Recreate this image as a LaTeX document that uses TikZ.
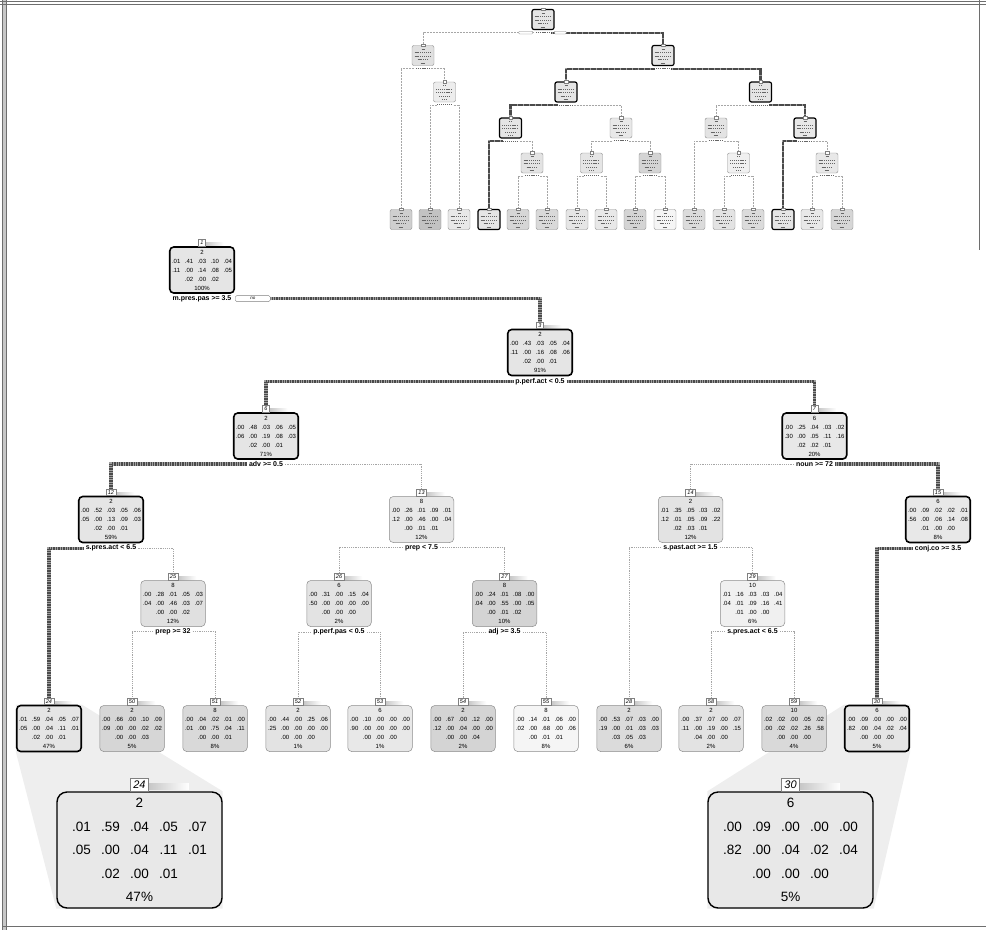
\documentclass[tikz,border=0pt]{standalone}
\usepackage{fontspec}
\setmainfont{Liberation Sans}
\usetikzlibrary{positioning, backgrounds}
\definecolor{hotgray}{HTML}{A0A0A0}
\definecolor{hotdark}{HTML}{4A4A4A}
\definecolor{conegray}{HTML}{EEEEEE}
\definecolor{framegray}{HTML}{6E6E6E}

% one row of the class table: five (or three) fixed cells
\newcommand\pcell[1]{\makebox[2.15em]{#1}}
\def\prow#1 #2 #3 #4 #5;{\pcell{#1}\pcell{#2}\pcell{#3}\pcell{#4}\pcell{#5}}
\def\pmid#1 #2 #3;{\pcell{#1}\pcell{#2}\pcell{#3}}
\def\ninfo#1/#2/#3/#4/#5;{#1\\\prow#2;\\\prow#3;\\\pmid#4;\\#5}

\begin{document}
\begin{tikzpicture}[
  x=1pt, y=-1pt,
  box/.style={draw=black!45, line width=0.5pt, rounded corners=4pt,
    minimum width=64pt, minimum height=46pt, inner sep=0pt, align=center,
    font=\fontsize{6}{9}\selectfont},
  onpath/.style={draw=black, line width=1.6pt},
  big/.style={box, draw=black, line width=1.4pt, rounded corners=10pt,
    minimum width=165pt, minimum height=116pt,
    font=\fontsize{13.5}{23.5}\selectfont},
  tag/.style={draw=black!50, fill=white, line width=0.4pt, anchor=south,
    inner xsep=2pt, inner ysep=0.4pt, minimum height=6.5pt,
    font=\fontsize{5.5}{5.5}\selectfont\itshape},
  bigtag/.style={tag, line width=0.6pt, inner xsep=3pt, minimum height=13pt,
    font=\fontsize{11}{11}\selectfont\itshape},
  split/.style={anchor=north, inner xsep=2pt, inner ysep=0.5pt,
    font=\fontsize{7}{7}\selectfont\bfseries},
  nobox/.style={draw=black!50, fill=white, rounded corners=1.5pt, line width=0.4pt,
    minimum width=35pt, minimum height=6pt, inner sep=0pt,
    font=\fontsize{4.5}{4.5}\selectfont\itshape},
  hot/.style={draw=hotgray, line width=3.2pt,
    postaction={draw=hotdark, line width=3.2pt, dash pattern=on 0.5pt off 1.2pt}},
  cold/.style={draw=black!35, line width=0.4pt, dash pattern=on 1.2pt off 1pt},
  shadow/.style={left color=black!22, right color=white},
  mini/.style={rounded corners=2pt, minimum width=22pt, minimum height=20pt, inner sep=0pt},
  minitext/.style={draw=black!60, line width=0.8pt, dash pattern=on 1.1pt off 0.8pt},
  minitag/.style={draw=black!50, fill=white, line width=0.3pt, minimum width=3.5pt,
    minimum height=2.5pt, inner sep=0pt},
  minilbl/.style={fill=white, minimum width=16pt, minimum height=2.6pt, inner sep=0pt},
  minihot/.style={draw=hotgray, line width=2.2pt,
    postaction={draw=hotdark, line width=2.2pt, dash pattern=on 0.4pt off 0.8pt}},
  minicold/.style={draw=black!35, line width=0.3pt, dash pattern=on 0.8pt off 0.7pt},
]
\useasboundingbox (0,0) rectangle (986,930);

% =============================================
% Frame
% =============================================
\fill[black!22] (2,0) rectangle (7,930);
\draw[framegray, line width=0.8pt] (2.5,0) -- (2.5,930);
\draw[framegray, line width=0.8pt] (6.5,0) -- (6.5,930);
\draw[framegray, line width=0.8pt] (0,1) -- (986,1);
\draw[framegray, line width=0.8pt] (0,4.5) -- (986,4.5);
\draw[framegray, line width=1pt] (3,926.5) -- (986,926.5);
\draw[framegray, line width=0.6pt] (979,0) -- (979,250);

% =============================================
% Overview of the whole tree
% =============================================
\foreach \id/\x/\y/\f/\lw/\dc in {
  1/543/19.5/10/1.2/black, 2/423/55.5/12/0.4/black!45, 3/663/55.5/10/1.2/black,
  5/444.5/92/7/0.4/black!45, 6/566/92/10/1.2/black, 7/760.5/92/10/1.2/black,
  12/510.5/128/10/1.2/black, 13/621/128/9/0.4/black!45, 14/716/128/11/0.4/black!45,
  15/805/128/9/1.2/black, 25/532/163/11/0.4/black!45, 26/591.5/163/10/0.4/black!45,
  27/650/163/17/0.4/black!45, 29/738.5/163/6/0.4/black!45, 31/827/163/9/0.4/black!45,
  4/401/219.5/19/0.4/black!45, 10/430/219.5/24/0.4/black!45, 11/459/219.5/9/0.4/black!45,
  24/489/219.5/10/1.2/black, 50/518/219.5/16/0.4/black!45, 51/547/219.5/15/0.4/black!45,
  52/577/219.5/10/0.4/black!45, 53/606/219.5/9/0.4/black!45, 54/635/219.5/17/0.4/black!45,
  55/665/219.5/4/0.4/black!45, 28/694/219.5/14/0.4/black!45, 58/724/219.5/11/0.4/black!45,
  59/753/219.5/14/0.4/black!45, 30/783/219.5/10/1.2/black, 62/812/219.5/9/0.4/black!45,
  63/842/219.5/16/0.4/black!45}
{
  \node[mini, fill=black!\f, draw=\dc, line width=\lw pt] (m\id) at (\x,\y) {};
  \foreach \r/\w in {-6.5/1.5, -3/8.5, 0.5/8.5, 4/5.5, 7.5/2.5}
    \draw[minitext] ({\x-\w},{\y+\r}) -- ({\x+\w},{\y+\r});
  \node[minitag] (mt\id) at (m\id.north) {};
}

\begin{pgfonlayer}{background}
\foreach \p/\c/\st in {1/2/0, 1/3/1, 2/4/0, 2/5/0, 5/10/0, 5/11/0, 3/6/1, 3/7/1,
  6/12/1, 6/13/0, 12/24/1, 12/25/0, 25/50/0, 25/51/0, 13/26/0, 13/27/0,
  26/52/0, 26/53/0, 27/54/0, 27/55/0, 7/14/0, 7/15/1, 14/28/0, 14/29/0,
  29/58/0, 29/59/0, 15/30/1, 15/31/0, 31/62/0, 31/63/0}
{
  \ifnum\st=1
    \draw[minihot] ([yshift=-2.5pt]m\p.south) -| (m\c.north);
  \else
    \draw[minicold] ([yshift=-2.5pt]m\p.south) -| (m\c.north);
  \fi
}
\end{pgfonlayer}

\foreach \p in {1,2,5,3,6,12,25,13,26,27,7,14,29,15,31}
{
  \node[minilbl] (ml\p) at ([yshift=-2.5pt]m\p.south) {};
  \draw[minitext] ([xshift=1pt]ml\p.west) -- ([xshift=-1pt]ml\p.east);
}
\node[minilbl, draw=black!50, line width=0.3pt, rounded corners=0.8pt,
  minimum width=14pt, left=2pt of ml1] (myes) {};
\node[minilbl, draw=black!50, line width=0.3pt, rounded corners=0.8pt,
  minimum width=12pt, right=3pt of ml1] (mno) {};

% =============================================
% Split nodes
% =============================================

% Node 1
\node[box, onpath, fill=black!10] (n1) at (202,270)
  {\ninfo 2/.01 .41 .03 .10 .04/.11 .00 .14 .08 .05/.02 .00 .02/100\%;};
\node[tag] (t1) at (n1.north) {1};
\node[split] (s1) at ([yshift=-1pt]n1.south) {m.pres.pas >= 3.5};
\node[nobox, right=1.5pt of s1] (no1) {no};

% Node 3
\node[box, onpath, fill=black!10] (n3) at (540,352.5)
  {\ninfo 2/.00 .43 .03 .05 .04/.11 .00 .16 .08 .06/.02 .00 .01/91\%;};
\node[tag] (t3) at (n3.north) {3};
\node[split] (s3) at ([yshift=-1pt]n3.south) {p.perf.act < 0.5};

% Node 6
\node[box, onpath, fill=black!10] (n6) at (266,436)
  {\ninfo 2/.00 .48 .03 .06 .05/.06 .00 .19 .08 .03/.02 .00 .01/71\%;};
\node[tag] (t6) at (n6.north) {6};
\node[split] (s6) at ([yshift=-1pt]n6.south) {adv >= 0.5};

% Node 7
\node[box, onpath, fill=black!9] (n7) at (814.5,436)
  {\ninfo 6/.00 .25 .04 .03 .02/.30 .00 .05 .11 .16/.02 .02 .01/20\%;};
\node[tag] (t7) at (n7.north) {7};
\node[split] (s7) at ([yshift=-1pt]n7.south) {noun >= 72};

% Node 12
\node[box, onpath, fill=black!10] (n12) at (111,519.5)
  {\ninfo 2/.00 .52 .03 .05 .06/.05 .00 .13 .09 .03/.02 .00 .01/59\%;};
\node[tag] (t12) at (n12.north) {12};
\node[split] (s12) at ([yshift=-1pt]n12.south) {s.pres.act < 6.5};

% Node 13
\node[box, fill=black!9] (n13) at (421.5,519.5)
  {\ninfo 8/.00 .26 .01 .09 .01/.12 .00 .46 .00 .04/.00 .01 .01/12\%;};
\node[tag] (t13) at (n13.north) {13};
\node[split] (s13) at ([yshift=-1pt]n13.south) {prep < 7.5};

% Node 14
\node[box, fill=black!11] (n14) at (690.5,519.5)
  {\ninfo 2/.01 .35 .05 .03 .02/.12 .01 .05 .09 .22/.02 .03 .01/12\%;};
\node[tag] (t14) at (n14.north) {14};
\node[split] (s14) at ([yshift=-1pt]n14.south) {s.past.act >= 1.5};

% Node 15
\node[box, onpath, fill=black!9] (n15) at (938,519.5)
  {\ninfo 6/.00 .09 .02 .02 .01/.56 .00 .06 .14 .08/.01 .00 .00/8\%;};
\node[tag] (t15) at (n15.north) {15};
\node[split] (s15) at ([yshift=-1pt]n15.south) {conj.co >= 3.5};

% Node 25
\node[box, fill=black!12] (n25) at (173,603.5)
  {\ninfo 8/.00 .28 .01 .05 .03/.04 .00 .46 .03 .07/.00 .00 .02/12\%;};
\node[tag] (t25) at (n25.north) {25};
\node[split] (s25) at ([yshift=-1pt]n25.south) {prep >= 32};

% Node 26
\node[box, fill=black!11] (n26) at (339,603.5)
  {\ninfo 6/.00 .31 .00 .15 .04/.50 .00 .00 .00 .00/.00 .00 .00/2\%;};
\node[tag] (t26) at (n26.north) {26};
\node[split] (s26) at ([yshift=-1pt]n26.south) {p.perf.pas < 0.5};

% Node 27
\node[box, fill=black!17] (n27) at (504.5,603.5)
  {\ninfo 8/.00 .24 .01 .08 .00/.04 .00 .55 .00 .05/.00 .01 .02/10\%;};
\node[tag] (t27) at (n27.north) {27};
\node[split] (s27) at ([yshift=-1pt]n27.south) {adj >= 3.5};

% Node 29
\node[box, fill=black!6] (n29) at (752.5,603.5)
  {\ninfo 10/.01 .16 .03 .03 .04/.04 .01 .09 .16 .41/.01 .00 .00/6\%;};
\node[tag] (t29) at (n29.north) {29};
\node[split] (s29) at ([yshift=-1pt]n29.south) {s.pres.act < 6.5};

% =============================================
% Leaves
% =============================================
\node[box, onpath, fill=black!10] (n24) at (49,728.5)
  {\ninfo 2/.01 .59 .04 .05 .07/.05 .00 .04 .11 .01/.02 .00 .01/47\%;};
\node[tag] (t24) at (n24.north) {24};

\node[box, fill=black!16] (n50) at (132,728.5)
  {\ninfo 2/.00 .66 .00 .10 .09/.09 .00 .00 .02 .02/.00 .00 .03/5\%;};
\node[tag] (t50) at (n50.north) {50};

\node[box, fill=black!15] (n51) at (215,728.5)
  {\ninfo 8/.00 .04 .02 .01 .00/.01 .00 .75 .04 .11/.00 .00 .01/8\%;};
\node[tag] (t51) at (n51.north) {51};

\node[box, fill=black!11] (n52) at (298,728.5)
  {\ninfo 2/.00 .44 .00 .25 .06/.25 .00 .00 .00 .00/.00 .00 .00/1\%;};
\node[tag] (t52) at (n52.north) {52};

\node[box, fill=black!9] (n53) at (380,728.5)
  {\ninfo 6/.00 .10 .00 .00 .00/.90 .00 .00 .00 .00/.00 .00 .00/1\%;};
\node[tag] (t53) at (n53.north) {53};

\node[box, fill=black!17] (n54) at (463,728.5)
  {\ninfo 2/.00 .67 .00 .12 .00/.12 .00 .04 .00 .00/.00 .00 .04/2\%;};
\node[tag] (t54) at (n54.north) {54};

\node[box, fill=black!4] (n55) at (546,728.5)
  {\ninfo 8/.00 .14 .01 .06 .00/.02 .00 .68 .00 .06/.00 .01 .01/8\%;};
\node[tag] (t55) at (n55.north) {55};

\node[box, fill=black!14] (n28) at (629,728.5)
  {\ninfo 2/.00 .53 .07 .03 .00/.19 .00 .01 .03 .03/.03 .05 .03/6\%;};
\node[tag] (t28) at (n28.north) {28};

\node[box, fill=black!11] (n58) at (711,728.5)
  {\ninfo 2/.00 .37 .07 .00 .07/.11 .00 .19 .00 .15/.04 .00 .00/2\%;};
\node[tag] (t58) at (n58.north) {58};

\node[box, fill=black!15] (n59) at (794,728.5)
  {\ninfo 10/.02 .02 .00 .05 .02/.00 .02 .02 .26 .58/.00 .00 .00/4\%;};
\node[tag] (t59) at (n59.north) {59};

\node[box, onpath, fill=black!10] (n30) at (877,728.5)
  {\ninfo 6/.00 .09 .00 .00 .00/.82 .00 .04 .02 .04/.00 .00 .00/5\%;};
\node[tag] (t30) at (n30.north) {30};

% =============================================
% Magnified leaves
% =============================================
\node[big, fill=black!9] (b24) at (139.5,850)
  {\ninfo 2/.01 .59 .04 .05 .07/.05 .00 .04 .11 .01/.02 .00 .01/47\%;};
\node[bigtag] (bt24) at (b24.north) {24};

\node[big, fill=black!9] (b30) at (790.5,850)
  {\ninfo 6/.00 .09 .00 .00 .00/.82 .00 .04 .02 .04/.00 .00 .00/5\%;};
\node[bigtag] (bt30) at (b30.north) {30};

% =============================================
% Connectors
% =============================================
\begin{pgfonlayer}{background}
% zoom cones
\fill[conegray] (n24.north west) -- (n24.north east) -- (b24.north east)
  -- (b24.south east) -- (b24.south west) -- (n24.south west) -- cycle;
\fill[conegray] (n30.north west) -- (n30.north east) -- (n30.south east)
  -- (b30.south east) -- (b30.south west) -- (b30.north west) -- cycle;

% tag shadows
\foreach \t in {t1,t3,t6,t7,t12,t13,t14,t15,t25,t26,t27,t29,
  t24,t50,t51,t52,t53,t54,t55,t28,t58,t59,t30}
  \shade[shadow] ([yshift=-3.5pt]\t.north east) rectangle ++(18,3.5);
\shade[shadow] ([yshift=-6pt]bt24.north east) rectangle ++(40,6);
\shade[shadow] ([yshift=-6pt]bt30.north east) rectangle ++(40,6);

\draw[hot] (no1.east) -| (t3.north);
\draw[hot] (s3.west) -| (t6.north);
\draw[hot] (s3.east) -| (t7.north);
\draw[hot] (s6.west) -| (t12.north);
\draw[cold] (s6.east) -| (t13.north);
\draw[cold] (s7.west) -| (t14.north);
\draw[hot] (s7.east) -| (t15.north);
\draw[hot] (s12.west) -| (t24.north);
\draw[cold] (s12.east) -| (t25.north);
\draw[cold] (s13.west) -| (t26.north);
\draw[cold] (s13.east) -| (t27.north);
\draw[cold] (s14.west) -| (t28.north);
\draw[cold] (s14.east) -| (t29.north);
\draw[hot] (s15.west) -| (t30.north);
\draw[cold] (s25.west) -| (t50.north);
\draw[cold] (s25.east) -| (t51.north);
\draw[cold] (s26.west) -| (t52.north);
\draw[cold] (s26.east) -| (t53.north);
\draw[cold] (s27.west) -| (t54.north);
\draw[cold] (s27.east) -| (t55.north);
\draw[cold] (s29.west) -| (t58.north);
\draw[cold] (s29.east) -| (t59.north);
\end{pgfonlayer}

\end{tikzpicture}
\end{document}
